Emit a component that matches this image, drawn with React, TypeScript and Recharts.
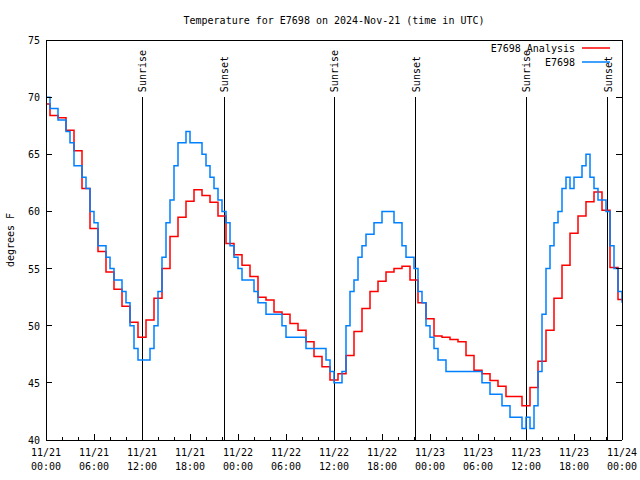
import { LineChart, Line, XAxis, YAxis, ReferenceLine } from "recharts";

const FONT = "'DejaVu Sans Mono', monospace";
const W = 640;
const H = 480;
// each axis takes 1px, so the plot box is 46..622 x 40..440
const margin = { top: 39, right: 17, bottom: 39, left: 45 };

const title = "Temperature for E7698 on 2024-Nov-21 (time in UTC)";
const yLabel = "degrees F";
const seriesNames = ["E7698 Analysis", "E7698"];
const seriesColors = ["#ff0000", "#0080ff"];

// analysis, hourly from 11/21 00:00 UTC
const analysisTemps = [
  69.4, 68.4, 68.2, 67.1, 65.3, 62.0, 58.5, 56.5, 54.7, 53.2, 51.7, 50.3,
  49.0, 50.5, 52.4, 55.0, 57.8, 59.5, 60.9, 61.9, 61.4, 60.8, 59.6, 57.2,
  56.2, 55.3, 54.3, 52.5, 52.25, 51.2, 51.0, 50.2, 49.6, 48.6, 47.3, 46.4,
  45.25, 45.8, 47.4, 49.5, 51.5, 53.0, 53.9, 54.7, 55.0, 55.2, 54.0, 52.0,
  50.6, 49.1, 49.0, 48.8, 48.6, 47.4, 46.1, 45.8, 45.2, 44.7, 43.8, 43.8,
  43.0, 44.6, 46.9, 49.6, 52.4, 55.3, 58.1, 59.6, 60.85, 61.7, 60.1, 55.1,
  52.3,
];

// station obs, every 30 min from 11/21 00:00 UTC
const obsTemps = [
  70, 69, 69, 68, 68, 67, 66, 64, 64, 63, 62, 60,
  59, 57, 57, 56, 55, 54, 54, 53, 52, 50, 48, 47,
  47, 47, 48, 50, 53, 56, 59, 61, 64, 66, 66, 67,
  66, 66, 66, 65, 64, 63, 62, 61, 60, 59, 57, 56,
  55, 54, 54, 54, 53, 52, 52, 51, 51, 51, 51, 50,
  49, 49, 49, 49, 49, 48, 48, 48, 48, 48, 47, 46,
  45, 45, 46, 50, 53, 54, 56, 57, 58, 58, 59, 59,
  60, 60, 60, 59, 59, 57, 56, 56, 55, 53, 52, 50,
  49, 48, 47, 47, 46, 46, 46, 46, 46, 46, 46, 46,
  46, 45, 45, 44, 44, 44, 43, 43, 42, 42, 42, 41,
  42, 41, 43, 46, 51, 55, 57, 59, 60, 62, 63, 62,
  63, 63, 64, 65, 63, 62, 61, 61, 60, 57, 55, 53,
  52,
];
const obsStep = 0.5;

const sunHours = [12.0, 22.3, 36.05, 46.2, 60.05, 70.2];
const sunLabels = ["Sunrise", "Sunset", "Sunrise", "Sunset", "Sunrise", "Sunset"];

const xTicks = Array.from({ length: 37 }, (_, i) => i * 2);
const yTicks = [40, 45, 50, 55, 60, 65, 70, 75];

const analysisData = analysisTemps.map((t, i) => ({ h: i, t }));
const obsData = obsTemps.map((t, i) => ({ h: i * obsStep, t }));

const dateLabel = (h: number) => `11/${21 + Math.floor(h / 24)}`;
const timeLabel = (h: number) => `${String(h % 24).padStart(2, "0")}:00`;

function BottomTick({ x, y, payload }: any) {
  const h = payload.value;
  const major = h % 6 === 0;
  return (
    <g>
      <line x1={x} y1={y} x2={x} y2={y - (major ? 6 : 3)} stroke="#000" shapeRendering="crispEdges" />
      {major && (
        <text x={x} y={y + 16} textAnchor="middle" fontSize={10} fontFamily={FONT} fill="#000">
          <tspan x={x}>{dateLabel(h)}</tspan>
          <tspan x={x} dy={14}>{timeLabel(h)}</tspan>
        </text>
      )}
    </g>
  );
}

function TopTick({ x, y, payload }: any) {
  const major = payload.value % 6 === 0;
  return <line x1={x} y1={y} x2={x} y2={y + (major ? 6 : 3)} stroke="#000" shapeRendering="crispEdges" />;
}

function LeftTick({ x, y, payload }: any) {
  return (
    <g>
      <line x1={x} y1={y} x2={x + 6} y2={y} stroke="#000" shapeRendering="crispEdges" />
      <text x={x - 6} y={y + 4} textAnchor="end" fontSize={10} fontFamily={FONT} fill="#000">
        {payload.value}
      </text>
    </g>
  );
}

function RightTick({ x, y }: any) {
  return <line x1={x} y1={y} x2={x - 6} y2={y} stroke="#000" shapeRendering="crispEdges" />;
}

function SunLabel(props: any) {
  const vb = props.viewBox || {};
  const tx = (vb.x ?? 0) + 4;
  const ty = (vb.y ?? 0) - 5;
  return (
    <text x={tx} y={ty} transform={`rotate(-90 ${tx} ${ty})`} fontSize={10} fontFamily={FONT} fill="#000">
      {props.value}
    </text>
  );
}

const axisLine = { stroke: "#000", shapeRendering: "crispEdges" };

export default function App() {
  const plotLeft = margin.left + 1;
  const plotRight = W - margin.right - 1;
  const plotMidX = (plotLeft + plotRight) / 2;
  const plotMidY = (margin.top + 1 + H - margin.bottom - 1) / 2;
  return (
    <div style={{ position: "absolute", left: 0, top: 0, width: W, height: H, background: "#fff" }}>
      <LineChart width={W} height={H} margin={margin}>
        <XAxis
          dataKey="h"
          type="number"
          domain={[0, 72]}
          ticks={xTicks}
          interval={0}
          height={1}
          tickSize={0}
          tickMargin={0}
          tickLine={false}
          tick={<BottomTick />}
          axisLine={axisLine}
          allowDataOverflow
        />
        <XAxis
          xAxisId="top"
          orientation="top"
          type="number"
          domain={[0, 72]}
          ticks={xTicks}
          interval={0}
          height={1}
          tickSize={0}
          tickMargin={0}
          tickLine={false}
          tick={<TopTick />}
          axisLine={axisLine}
          allowDataOverflow
        />
        <YAxis
          yAxisId="l"
          type="number"
          domain={[40, 75]}
          ticks={yTicks}
          interval={0}
          width={1}
          tickSize={0}
          tickMargin={0}
          tickLine={false}
          tick={<LeftTick />}
          axisLine={axisLine}
          allowDataOverflow
        />
        <YAxis
          yAxisId="r"
          orientation="right"
          type="number"
          domain={[40, 75]}
          ticks={yTicks}
          interval={0}
          width={1}
          tickSize={0}
          tickMargin={0}
          tickLine={false}
          tick={<RightTick />}
          axisLine={axisLine}
          allowDataOverflow
        />
        {sunHours.map((h, i) => (
          <ReferenceLine
            key={i}
            yAxisId="l"
            segment={[
              { x: h, y: 40 },
              { x: h, y: 70 },
            ]}
            stroke="#000"
            strokeWidth={1}
            shapeRendering="crispEdges"
            label={{ value: sunLabels[i], content: (p: any) => <SunLabel {...p} /> }}
          />
        ))}
        <Line
          yAxisId="l"
          data={analysisData}
          dataKey="t"
          type="step"
          stroke={seriesColors[0]}
          strokeWidth={1.5}
          dot={false}
          isAnimationActive={false}
        />
        <Line
          yAxisId="l"
          data={obsData}
          dataKey="t"
          type="stepAfter"
          stroke={seriesColors[1]}
          strokeWidth={1.5}
          dot={false}
          isAnimationActive={false}
        />
      </LineChart>
      <svg
        width={W}
        height={H}
        style={{ position: "absolute", left: 0, top: 0, pointerEvents: "none" }}
        fontFamily={FONT}
        fontSize={10}
      >
        <text x={plotMidX} y={24} textAnchor="middle" fill="#000">
          {title}
        </text>
        <text x={14} y={plotMidY} textAnchor="middle" transform={`rotate(-90 14 ${plotMidY})`} fill="#000">
          {yLabel}
        </text>
        {seriesNames.map((name, i) => (
          <g key={name}>
            <text x={575} y={52 + i * 14} textAnchor="end" fill="#000">
              {name}
            </text>
            <line x1={582} y1={48 + i * 14} x2={610} y2={48 + i * 14} stroke={seriesColors[i]} strokeWidth={1.5} />
          </g>
        ))}
      </svg>
    </div>
  );
}
